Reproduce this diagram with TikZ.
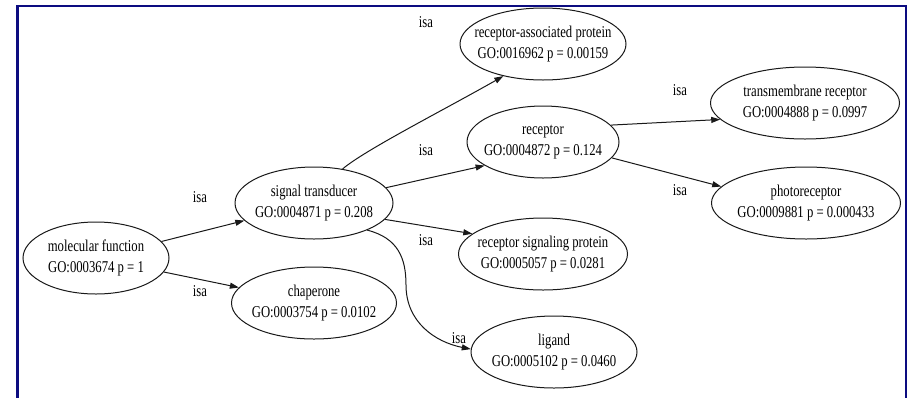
\documentclass[tikz,border=0pt]{standalone}
\usepackage{fontspec}
\setmainfont{Liberation Serif}[FakeStretch=0.77]
\usetikzlibrary{shapes.geometric,arrows.meta}
\definecolor{framenavy}{RGB}{12,12,128}
\definecolor{inkgray}{RGB}{25,25,25}
\begin{document}
\begin{tikzpicture}[x=1pt,y=-1pt,
  term/.style={ellipse, draw=inkgray, line width=1pt, inner xsep=-30pt, inner ysep=0pt,
    minimum height=72pt, align=center, font=\fontsize{16.5}{21.5}\selectfont},
  isalabel/.style={font=\fontsize{16.5}{21.5}\selectfont, inner sep=0pt},
  link/.style={draw=inkgray, line width=1pt, -{Triangle[length=9pt,width=6pt]}}
]
% page and frame
\fill[white] (0,0) rectangle (909,397);
\useasboundingbox (0,0) rectangle (909,397);
\draw[framenavy, line width=2.5pt] (17.5,400) -- (17.5,6) -- (906,6) -- (906,400);

% GO terms
\node[term, minimum width=146pt] (mf)  at (96,258)  {molecular function\\GO:0003674 p = 1};
\node[term, minimum width=158pt] (st)  at (314,203) {signal transducer\\GO:0004871 p = 0.208};
\node[term, minimum width=165pt] (ch)  at (314,303) {chaperone\\GO:0003754 p = 0.0102};
\node[term, minimum width=166pt] (rap) at (543,44)  {receptor-associated protein\\GO:0016962 p = 0.00159};
\node[term, minimum width=152pt] (rec) at (543,142) {receptor\\GO:0004872 p = 0.124};
\node[term, minimum width=169pt] (rsp) at (543,254) {receptor signaling protein\\GO:0005057 p = 0.0281};
\node[term, minimum width=166pt] (lig) at (554,352) {ligand\\GO:0005102 p = 0.0460};
\node[term, minimum width=189pt] (tm)  at (805,103) {transmembrane receptor\\GO:0004888 p = 0.0997};
\node[term, minimum width=189pt] (ph)  at (806,203) {photoreceptor\\GO:0009881 p = 0.000433};

% is-a relations
\draw[link] (mf) -- (st);
\draw[link] (mf) -- (ch);
\draw[link] (st.50) .. controls (365,150) and (440,112) .. (rap.219);
\draw[link] (st.12) -- (rec.202);
\draw[link] (st.-13) -- (rsp.164);
\draw[link] (st.-27) .. controls (398,238) and (406,258) .. (406,285)
                     .. controls (406,322) and (435,342) .. (lig.178);
\draw[link] (rec.14) -- (tm.191);
\draw[link] (rec.-13) -- (ph.169);

% edge labels
\node[isalabel] (i1) at (200,197) {isa};
\node[isalabel] (i2) at (200,291) {isa};
\node[isalabel] (i3) at (426,22)  {isa};
\node[isalabel] (i4) at (426,150) {isa};
\node[isalabel] (i5) at (426,240) {isa};
\node[isalabel] (i6) at (459,338) {isa};
\node[isalabel] (i7) at (680,90)  {isa};
\node[isalabel] (i8) at (680,190) {isa};
\end{tikzpicture}
\end{document}
